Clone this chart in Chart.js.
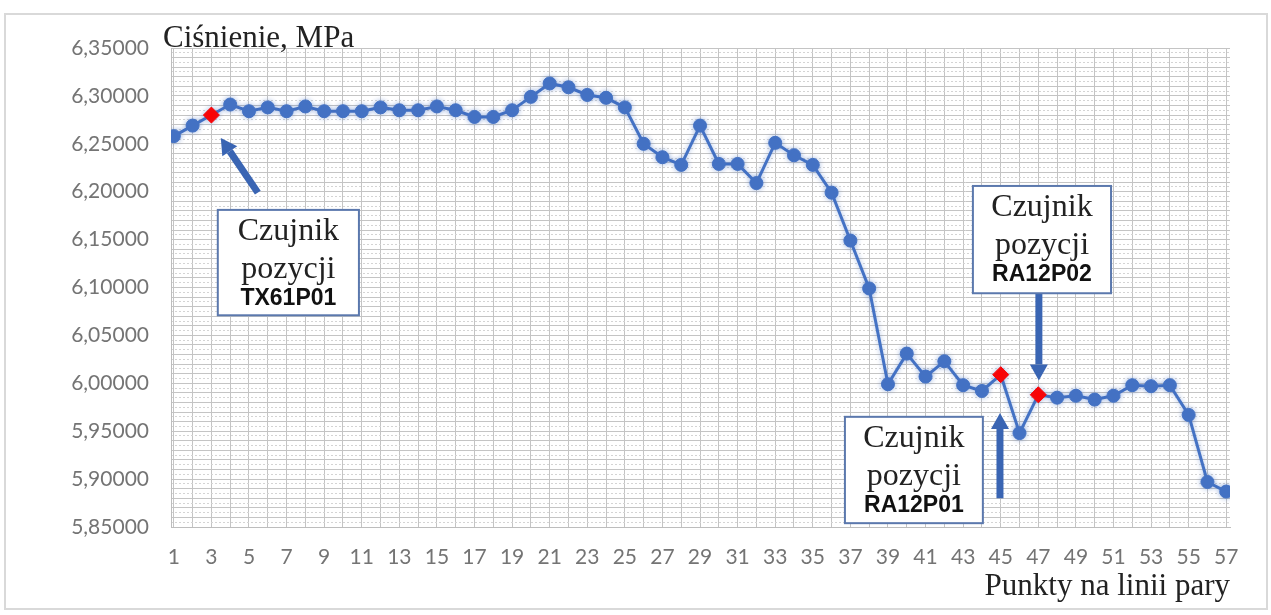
<!DOCTYPE html>
<html>
<head>
<meta charset="utf-8">
<script src="https://cdn.jsdelivr.net/npm/chart.js@4.4.1/dist/chart.umd.min.js"></script>
<style>
  html, body { margin: 0; padding: 0; background: #fff; }
  #wrap { position: relative; width: 1271px; height: 615px; }
</style>
</head>
<body>
<div id="wrap"><canvas id="chart" width="1271" height="615"></canvas></div>
<script>
// measuring points along the steam line
const pointLabels = [1, 2, 3, 4, 5, 6, 7, 8, 9, 10, 11, 12, 13, 14, 15, 16, 17, 18, 19, 20,
  21, 22, 23, 24, 25, 26, 27, 28, 29, 30, 31, 32, 33, 34, 35, 36, 37, 38, 39, 40,
  41, 42, 43, 44, 45, 46, 47, 48, 49, 50, 51, 52, 53, 54, 55, 56, 57]

// pressure, MPa
const pressure = [6.258, 6.269, 6.280, 6.291, 6.284, 6.288, 6.284, 6.289, 6.284, 6.284,
  6.284, 6.288, 6.285, 6.285, 6.289, 6.285, 6.278, 6.278, 6.285, 6.299,
  6.313, 6.309, 6.301, 6.298, 6.288, 6.250, 6.236, 6.228, 6.269, 6.229,
  6.229, 6.209, 6.251, 6.238, 6.228, 6.199, 6.149, 6.099, 5.999, 6.031,
  6.007, 6.023, 5.998, 5.992, 6.009, 5.948, 5.988, 5.985, 5.987, 5.983,
  5.987, 5.998, 5.997, 5.998, 5.967, 5.897, 5.887]

// points where the sensors sit (red markers)
const sensorPoints = [3, 45, 47]
const sensorNames = ["TX61P01", "RA12P02", "RA12P01"]

const yMin = 5.85, yMax = 6.35, yLabelStep = 0.05

// where each note box and arrow goes, in axis units
const notePlacement = [
  {box: [3.34, 6.181, 10.85, 6.071], arrow: [5.47, 6.199, 3.5, 6.256]},
  {box: [43.52, 6.206, 50.87, 6.094], arrow: [47.03, 6.094, 47.03, 6.003]},
  {box: [36.71, 5.965, 44.05, 5.854], arrow: [44.96, 5.880, 44.96, 5.969]}
]

const BLUE = "#4472c4"
const RED = "#ff0000"

const fmt = v => v.toFixed(5).replace(".", ",")

const frame = {
  id: "frame",
  beforeDraw(chart) {
    const ctx = chart.ctx
    ctx.save()
    ctx.strokeStyle = "#d9d9d9"
    ctx.lineWidth = 2
    ctx.strokeRect(5, 14, 1262, 595)
    ctx.restore()
  },
  beforeDatasetsDraw(chart) {
    // soft glow round the series, as in the original
    chart.ctx.save()
    chart.ctx.shadowColor = "rgba(68,114,196,0.45)"
    chart.ctx.shadowBlur = 5
  },
  afterDatasetsDraw(chart) {
    chart.ctx.restore()
  },
  afterDraw(chart) {
    const ctx = chart.ctx
    const a = chart.chartArea
    ctx.save()
    ctx.fillStyle = "#222"
    ctx.font = '31px "Liberation Serif"'
    ctx.textBaseline = "alphabetic"
    ctx.fillText("Ciśnienie, MPa", a.left - 8, 47)
    ctx.restore()
  }
}

function drawArrow(ctx, x1, y1, x2, y2) {
  const ang = Math.atan2(y2 - y1, x2 - x1)
  const headLen = 16, headW = 9
  const bx = x2 - Math.cos(ang) * headLen, by = y2 - Math.sin(ang) * headLen
  ctx.strokeStyle = "#3a65b3"
  ctx.fillStyle = "#3a65b3"
  ctx.lineWidth = 7
  ctx.lineCap = "butt"
  ctx.beginPath()
  ctx.moveTo(x1, y1)
  ctx.lineTo(bx, by)
  ctx.stroke()
  ctx.beginPath()
  ctx.moveTo(x2, y2)
  ctx.lineTo(bx + Math.sin(ang) * headW, by - Math.cos(ang) * headW)
  ctx.lineTo(bx - Math.sin(ang) * headW, by + Math.cos(ang) * headW)
  ctx.closePath()
  ctx.fill()
}

const notes = {
  id: "notes",
  afterDatasetsDraw(chart) {
    const ctx = chart.ctx
    const xs = chart.scales.x, ys = chart.scales.y
    ctx.save()
    ctx.shadowColor = "rgba(0,0,0,0)"
    ctx.shadowBlur = 0
    notePlacement.forEach((n, i) => {
      const l = xs.getPixelForValue(n.box[0]), t = ys.getPixelForValue(n.box[1])
      const r = xs.getPixelForValue(n.box[2]), b = ys.getPixelForValue(n.box[3])
      drawArrow(ctx, xs.getPixelForValue(n.arrow[0]), ys.getPixelForValue(n.arrow[1]),
        xs.getPixelForValue(n.arrow[2]), ys.getPixelForValue(n.arrow[3]))
      ctx.fillStyle = "#fff"
      ctx.fillRect(l, t, r - l, b - t)
      ctx.strokeStyle = "#5b78ad"
      ctx.lineWidth = 2
      ctx.strokeRect(l, t, r - l, b - t)
      const cx = (l + r) / 2
      ctx.fillStyle = "#222"
      ctx.textAlign = "center"
      ctx.textBaseline = "alphabetic"
      ctx.font = '32px "Liberation Serif"'
      ctx.fillText("Czujnik", cx, t + 30)
      ctx.fillText("pozycji", cx, t + 68)
      ctx.font = 'bold 23px "Liberation Sans"'
      ctx.fillStyle = "#111"
      ctx.fillText(sensorNames[i], cx, t + 95)
    })
    ctx.restore()
  }
}

new Chart(document.getElementById("chart"), {
  type: "line",
  data: {
    datasets: [{
      data: pointLabels.map((p, i) => ({x: p, y: pressure[i]})),
      borderColor: BLUE,
      borderWidth: 3,
      pointRadius: pointLabels.map(p => sensorPoints.includes(p) ? 8 : 6.5),
      pointStyle: pointLabels.map(p => sensorPoints.includes(p) ? "rectRot" : "circle"),
      pointBackgroundColor: pointLabels.map(p => sensorPoints.includes(p) ? RED : BLUE),
      pointBorderColor: pointLabels.map(p => sensorPoints.includes(p) ? RED : BLUE),
      pointBorderWidth: 1,
      tension: 0
    }]
  },
  options: {
    responsive: false,
    animation: false,
    layout: {padding: {left: 0, top: 48, right: 41, bottom: 0}},
    plugins: {legend: {display: false}, tooltip: {enabled: false}, title: {display: false}},
    scales: {
      x: {
        type: "linear",
        min: 0.85,
        max: 57.2,
        afterFit: s => { s.height = 88 },
        ticks: {
          stepSize: 1,
          includeBounds: false,
          autoSkip: false,
          maxRotation: 0,
          padding: 18,
          color: "#747474",
          font: {family: "Lato", size: 21},
          callback: v => (Number.isInteger(v) && v % 2 === 1) ? String(v) : ""
        },
        grid: {color: "#c4c4c4", lineWidth: 1, drawTicks: false},
        border: {display: true, color: "#bdbdbd", width: 1},
        title: {
          display: true,
          text: "Punkty na linii pary",
          align: "end",
          color: "#222",
          font: {family: "Liberation Serif", size: 31},
          padding: {top: 0, bottom: 10}
        }
      },
      y: {
        min: yMin,
        max: yMax,
        afterFit: s => { s.width = 171 },
        ticks: {
          stepSize: 0.01,
          includeBounds: false,
          autoSkip: false,
          padding: 22,
          color: "#747474",
          font: {family: "Lato", size: 21},
          callback: v => (Math.round(v * 1000) % Math.round(yLabelStep * 1000) === 0) ? fmt(v) : ""
        },
        grid: {color: "#c4c4c4", lineWidth: 1, drawTicks: false},
        border: {display: true, color: "#bdbdbd", width: 1}
      },
      y2: {
        position: "left",
        min: yMin,
        max: yMax,
        afterFit: s => { s.width = 0 },
        ticks: {stepSize: 0.005, includeBounds: false, autoSkip: false, display: false},
        grid: {
          color: c => (Math.round(c.tick.value * 1000) % 10 === 0) ? "rgba(0,0,0,0)" : "#d4d4d4",
          lineWidth: 1,
          drawTicks: false
        },
        border: {display: false, dash: [2, 2]}
      }
    }
  },
  plugins: [frame, notes]
})
</script>
</body>
</html>
